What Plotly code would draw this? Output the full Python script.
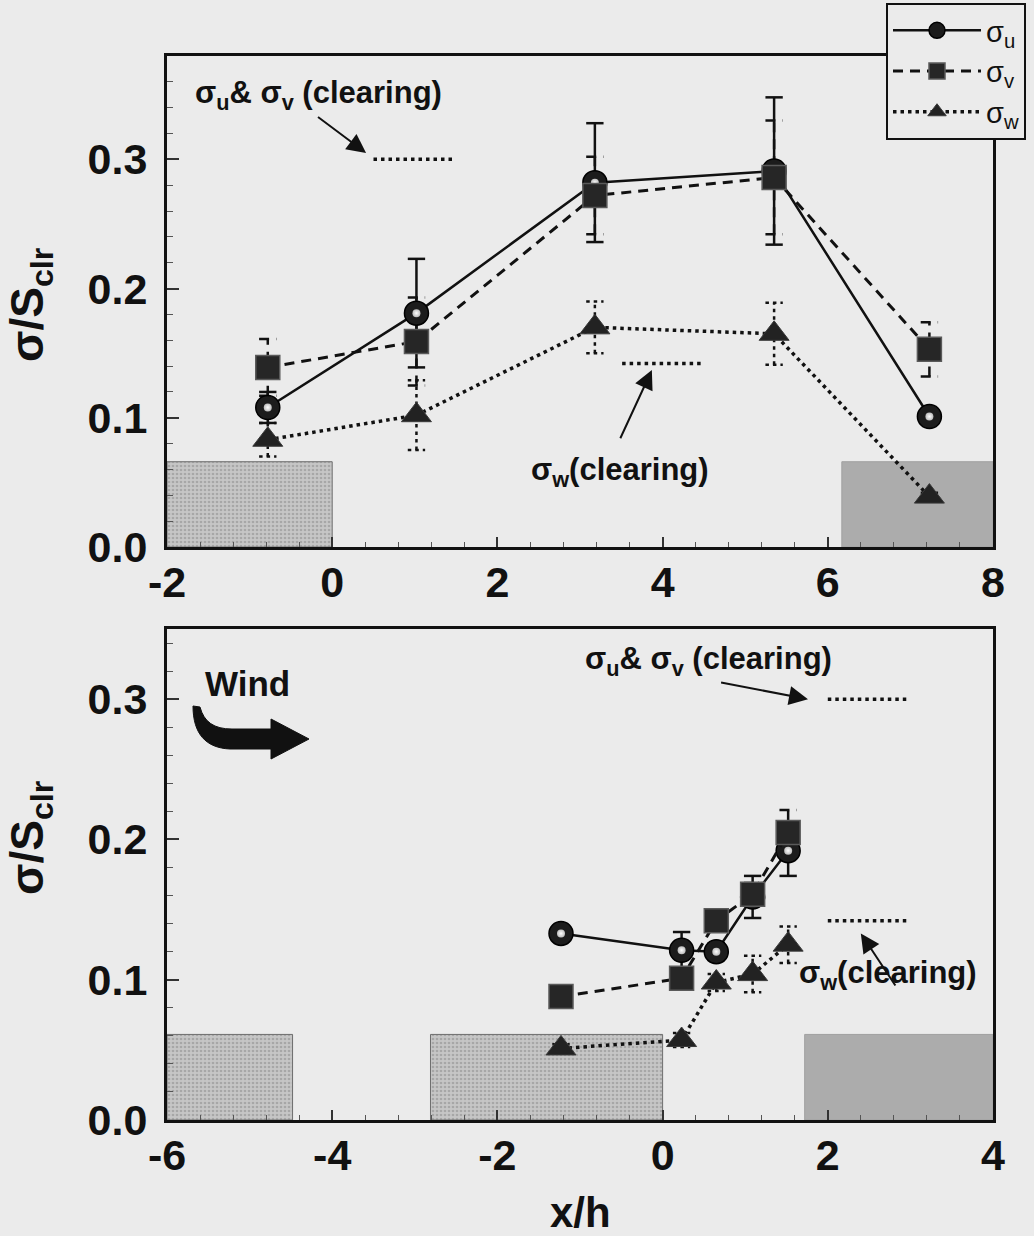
import plotly.graph_objects as go

W, H = 1034, 1236

# ---------------- data ----------------
# top panel
top_x = [-0.78, 1.02, 3.18, 5.35, 7.23]
top_su = [0.108, 0.181, 0.282, 0.291, 0.101]
top_su_err = [0.012, 0.042, 0.046, 0.057, 0.004]
top_sv = [0.139, 0.159, 0.272, 0.286, 0.153]
top_sv_err = [0.022, 0.034, 0.030, 0.044, 0.021]
top_sw = [0.083, 0.102, 0.170, 0.165, 0.039]
top_sw_err = [0.013, 0.027, 0.020, 0.024, 0.003]

# bottom panel
bot_x = [-1.23, 0.23, 0.65, 1.09, 1.52]
bot_su = [0.133, 0.121, 0.120, 0.159, 0.192]
bot_su_err = [0.005, 0.013, 0.006, 0.015, 0.018]
bot_sv = [0.088, 0.101, 0.142, 0.161, 0.205]
bot_sv_err = [0.004, 0.006, 0.005, 0.008, 0.016]
bot_sw = [0.051, 0.057, 0.098, 0.104, 0.125]
bot_sw_err = [0.003, 0.005, 0.006, 0.013, 0.013]

# clearing reference levels
clear_uv = 0.30
clear_w = 0.142
top_clear_uv_x = [0.50, 1.46]
top_clear_w_x = [3.51, 4.47]
bot_clear_uv_x = [2.00, 2.95]
bot_clear_w_x = [2.00, 2.95]

# obstacles (tree stands)
top_box_x0 = [-2.0, 6.17]
top_box_x1 = [0.0, 8.0]
top_box_h = 0.066
top_box_textured = [True, False]
bot_box_x0 = [-6.0, -2.81, 1.72]
bot_box_x1 = [-4.48, 0.0, 4.0]
bot_box_h = 0.061
bot_box_textured = [True, True, False]

top_xticks = [-2, 0, 2, 4, 6, 8]
bot_xticks = [-6, -4, -2, 0, 2, 4]
yticks = [0.0, 0.1, 0.2, 0.3]

series_names = ["σ<sub>u</sub>", "σ<sub>v</sub>", "σ<sub>w</sub>"]

# ---------------- styles ----------------
BG = "#ebebeb"
FONT = "Liberation Sans"
line_styles = [dict(color="#111111", width=2.5, dash="solid"),
               dict(color="#111111", width=3, dash="10px,7px"),
               dict(color="#111111", width=3.5, dash="3.5px,4px")]
marker_styles = [dict(symbol="circle", size=24, color="#1c1c1c", line=dict(color="#000", width=1.5)),
                 dict(symbol="square", size=24, color="#262626", line=dict(color="#5a5a5a", width=1.5)),
                 dict(symbol="triangle-up", size=26, color="#222222", line=dict(color="#3a3a3a", width=1))]

fig = go.Figure()


def add_boxes(x0s, x1s, h, textured, xa, ya):
    for a, b, t in zip(x0s, x1s, textured):
        kw = dict(x=[a, b, b, a, a], y=[0, 0, h, h, 0], mode="lines", fill="toself",
                  line=dict(color="#6e6e6e", width=1), hoverinfo="skip", showlegend=False,
                  xaxis=xa, yaxis=ya)
        if t:
            kw["fillcolor"] = "#c4c4c4"
            kw["fillpattern"] = dict(shape=".", bgcolor="#c6c6c6", fgcolor="#888888", size=4, solidity=0.35)
        else:
            kw["fillcolor"] = "#acacac"
            kw["line"] = dict(color="#a0a0a0", width=1)
        fig.add_trace(go.Scatter(**kw))


def add_clear(xs, level, xa, ya):
    fig.add_trace(go.Scatter(x=xs, y=[level, level], mode="lines",
                             line=dict(color="#111", width=3.5, dash="3.5px,4px"),
                             showlegend=False, hoverinfo="skip", xaxis=xa, yaxis=ya))


def add_errbars(xs, ys, es, style, xa, ya, cap=0.105):
    ex, ey = [], []
    for x, y, e in zip(xs, ys, es):
        ex += [x, x, None, x - cap, x + cap, None, x - cap, x + cap, None]
        ey += [y - e, y + e, None, y + e, y + e, None, y - e, y - e, None]
    st = dict(style)
    st["width"] = 2.5
    fig.add_trace(go.Scatter(x=ex, y=ey, mode="lines", line=st, showlegend=False,
                             hoverinfo="skip", xaxis=xa, yaxis=ya))


def add_series(xs, ys, i, xa, ya, legend):
    fig.add_trace(go.Scatter(x=xs, y=ys, mode="lines+markers", name=series_names[i],
                             line=line_styles[i], marker=marker_styles[i],
                             legendgroup=str(i), showlegend=legend, xaxis=xa, yaxis=ya))
    if i == 0:
        fig.add_trace(go.Scatter(x=xs, y=ys, mode="markers",
                                 marker=dict(symbol="circle", size=8, color="#bdbdbd",
                                             gradient=dict(type="radial", color="#ffffff"),
                                             line=dict(width=0)),
                                 showlegend=False, hoverinfo="skip", xaxis=xa, yaxis=ya))


# top panel
add_boxes(top_box_x0, top_box_x1, top_box_h, top_box_textured, "x", "y")
add_clear(top_clear_uv_x, clear_uv, "x", "y")
add_clear(top_clear_w_x, clear_w, "x", "y")
for i, (ys, es) in enumerate([(top_su, top_su_err), (top_sv, top_sv_err), (top_sw, top_sw_err)]):
    add_errbars(top_x, ys, es, line_styles[i], "x", "y")
for i, ys in enumerate([top_su, top_sv, top_sw]):
    add_series(top_x, ys, i, "x", "y", True)

# bottom panel
add_boxes(bot_box_x0, bot_box_x1, bot_box_h, bot_box_textured, "x2", "y2")
add_clear(bot_clear_uv_x, clear_uv, "x2", "y2")
add_clear(bot_clear_w_x, clear_w, "x2", "y2")
for i, (ys, es) in enumerate([(bot_su, bot_su_err), (bot_sv, bot_sv_err), (bot_sw, bot_sw_err)]):
    add_errbars(bot_x, ys, es, line_styles[i], "x2", "y2")
for i, ys in enumerate([bot_su, bot_sv, bot_sw]):
    add_series(bot_x, ys, i, "x2", "y2", False)

# ---------------- axes ----------------
XDOM = [167 / W, 993 / W]
TOP_DOM = [1 - 547 / H, 1 - 56 / H]
BOT_DOM = [1 - 1120 / H, 1 - 629 / H]

tickfont = dict(family=FONT, size=43, color="#111", weight="bold")
common_x = dict(showgrid=False, zeroline=False, showline=True, mirror=True, linewidth=3,
                linecolor="#111", ticks="inside", ticklen=10, tickwidth=1.5, tickcolor="#333",
                tickfont=tickfont, ticklabelstandoff=-5, automargin=False,
                minor=dict(dtick=0.4, ticks="inside", ticklen=5, tickwidth=1, tickcolor="#555"))
common_y = dict(showgrid=False, zeroline=False, showline=True, mirror=True, linewidth=3,
                linecolor="#111", ticks="inside", ticklen=12, tickwidth=1.5, tickcolor="#333",
                tickfont=tickfont, ticklabelstandoff=8, tickvals=yticks, automargin=False,
                ticktext=[f"{v:.1f}" for v in yticks],
                minor=dict(dtick=0.02, ticks="inside", ticklen=6, tickwidth=1, tickcolor="#555"))

fig.update_layout(
    width=W, height=H, margin=dict(l=0, r=0, t=0, b=0),
    paper_bgcolor=BG, plot_bgcolor=BG,
    font=dict(family=FONT, color="#111"),
    xaxis=dict(domain=XDOM, range=[-2, 8], anchor="y", tickvals=top_xticks,
               ticktext=[str(v) for v in top_xticks], **common_x),
    yaxis=dict(domain=TOP_DOM, range=[0, 0.38], anchor="x", **common_y),
    xaxis2=dict(domain=XDOM, range=[-6, 4], anchor="y2", tickvals=bot_xticks,
                ticktext=[str(v) for v in bot_xticks], **common_x),
    yaxis2=dict(domain=BOT_DOM, range=[0, 0.35], anchor="x2", **common_y),
    legend=dict(x=886 / W, y=1 - 3 / H, xanchor="left", yanchor="top",
                bgcolor=BG, bordercolor="#111", borderwidth=2, itemwidth=88,
                font=dict(family=FONT, size=29, color="#111"),
                tracegroupgap=0),
)

# ---------------- annotations ----------------
afont = dict(family=FONT, size=31, color="#111", weight="bold")
ann = []
ann.append(dict(x=-0.17, y=0.350, xref="x", yref="y", showarrow=False, font=afont,
                text="σ<sub>u</sub>& σ<sub>v</sub> (clearing)"))
ann.append(dict(x=3.49, y=0.058, xref="x", yref="y", showarrow=False, font=afont,
                text="σ<sub>w</sub>(clearing)"))
ann.append(dict(x=0.55, y=0.327, xref="x2", yref="y2", showarrow=False, font=afont,
                text="σ<sub>u</sub>& σ<sub>v</sub> (clearing)"))
ann.append(dict(x=2.73, y=0.1036, xref="x2", yref="y2", showarrow=False, font=afont,
                text="σ<sub>w</sub>(clearing)"))
ann.append(dict(x=-5.03, y=0.311, xref="x2", yref="y2", showarrow=False,
                font=dict(family=FONT, size=35, color="#111", weight="bold"), text="Wind"))

arrows = [("x", "y", 0.41, 0.305, -0.19, 0.3336),
          ("x", "y", 3.87, 0.137, 3.48, 0.083),
          ("x2", "y2", 1.76, 0.300, 0.69, 0.312),
          ("x2", "y2", 2.40, 0.133, 2.83, 0.0948)]
for xr, yr, x, y, ax_, ay_ in arrows:
    ann.append(dict(x=x, y=y, ax=ax_, ay=ay_, xref=xr, yref=yr, axref=xr, ayref=yr,
                    text="", showarrow=True, arrowhead=2, arrowsize=1.9, arrowwidth=2,
                    arrowcolor="#111", standoff=0))

tfont = dict(family=FONT, size=46, color="#111", weight="bold")
ann.append(dict(x=30 / W, y=1 - 305 / H, xref="paper", yref="paper", showarrow=False,
                xanchor="center", yanchor="middle",
                textangle=-90, font=tfont, text="σ/S<sub>clr</sub>"))
ann.append(dict(x=30 / W, y=1 - 838 / H, xref="paper", yref="paper", showarrow=False,
                xanchor="center", yanchor="middle",
                textangle=-90, font=tfont, text="σ/S<sub>clr</sub>"))
ann.append(dict(x=580 / W, y=1 - 1212 / H, xref="paper", yref="paper", showarrow=False,
                xanchor="center", yanchor="middle", font=dict(family=FONT, size=42, color="#111", weight="bold"),
                text="x/h"))
fig.update_layout(annotations=ann)

# wind arrow decoration (pixel outline -> paper coords)
wind_px = [("M", 193, 706), ("L", 200, 707), ("C", 204, 722, 214, 729, 232, 729),
           ("L", 271, 729), ("L", 271, 719), ("L", 309, 739), ("L", 271, 759),
           ("L", 271, 749), ("L", 230, 749), ("C", 206, 748, 193, 734, 193, 706)]
parts = []
for seg in wind_px:
    cmd, nums = seg[0], seg[1:]
    pts = []
    for k in range(0, len(nums), 2):
        pts.append(f"{nums[k] / W:.5f},{1 - nums[k + 1] / H:.5f}")
    parts.append(cmd + " " + " ".join(pts))
path = " ".join(parts) + " Z"
fig.add_shape(type="path", path=path, xref="paper", yref="paper",
              fillcolor="#111", line=dict(color="#111", width=1))

fig.write_html("out.html")
